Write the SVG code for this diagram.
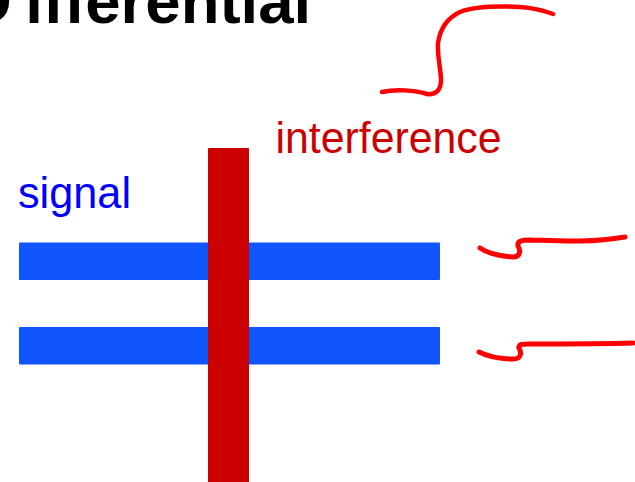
<svg xmlns="http://www.w3.org/2000/svg" width="635" height="482" viewBox="0 0 635 482">
<style>
.title{font-family:"Liberation Sans",Arial,sans-serif;font-weight:bold;fill:#000}
.lbl{font-family:"Liberation Sans",Arial,sans-serif}
.ink{fill:none;stroke:#ff0000;stroke-linecap:round;stroke-linejoin:round}
.wire{fill:#0f55fb}
</style>
<rect width="635" height="482" fill="#fff"/>
<g id="title">
<text class="title" x="-34" y="23" font-size="63.5">D<tspan dx="13.5">ifferential</tspan></text>
</g>
<g id="signal-wires">
<rect class="wire" x="19" y="242.5" width="421" height="37.5" rx="1"/>
<rect class="wire" x="19" y="327" width="421" height="37.5" rx="1"/>
</g>
<g id="interference-bar">
<rect x="208" y="148" width="41" height="340" rx="1" fill="#cc0000"/>
</g>
<g id="label-signal">
<text class="lbl" x="18" y="207.5" font-size="44" fill="#0000ff" textLength="113" lengthAdjust="spacingAndGlyphs">signal</text>
</g>
<g id="label-interference">
<text class="lbl" x="275.5" y="152.5" font-size="44" fill="#cc0000" textLength="226" lengthAdjust="spacingAndGlyphs">interference</text>
</g>
<g id="connectors">
<path class="ink" stroke-width="4.5" d="M382,92 C395,89 415,90 427,94 C436,95 441,90 441,80 C441,70 437,55 438,43 C440,30 447,18 460,12 C475,6 500,6 520,7 C535,8 545,11 553,14"/>
<path class="ink" stroke-width="5" d="M480,248 C487,253 500,256 513,257 C520,257 521,251 518,246 C517,241 522,240 530,240 C560,241 590,243 625,237"/>
<path class="ink" stroke-width="5" d="M479,352 C487,356 500,359 513,359 C521,359 522,353 519,348 C518,344 523,344 530,344 C570,344 600,344 633,343"/>
</g>
</svg>
